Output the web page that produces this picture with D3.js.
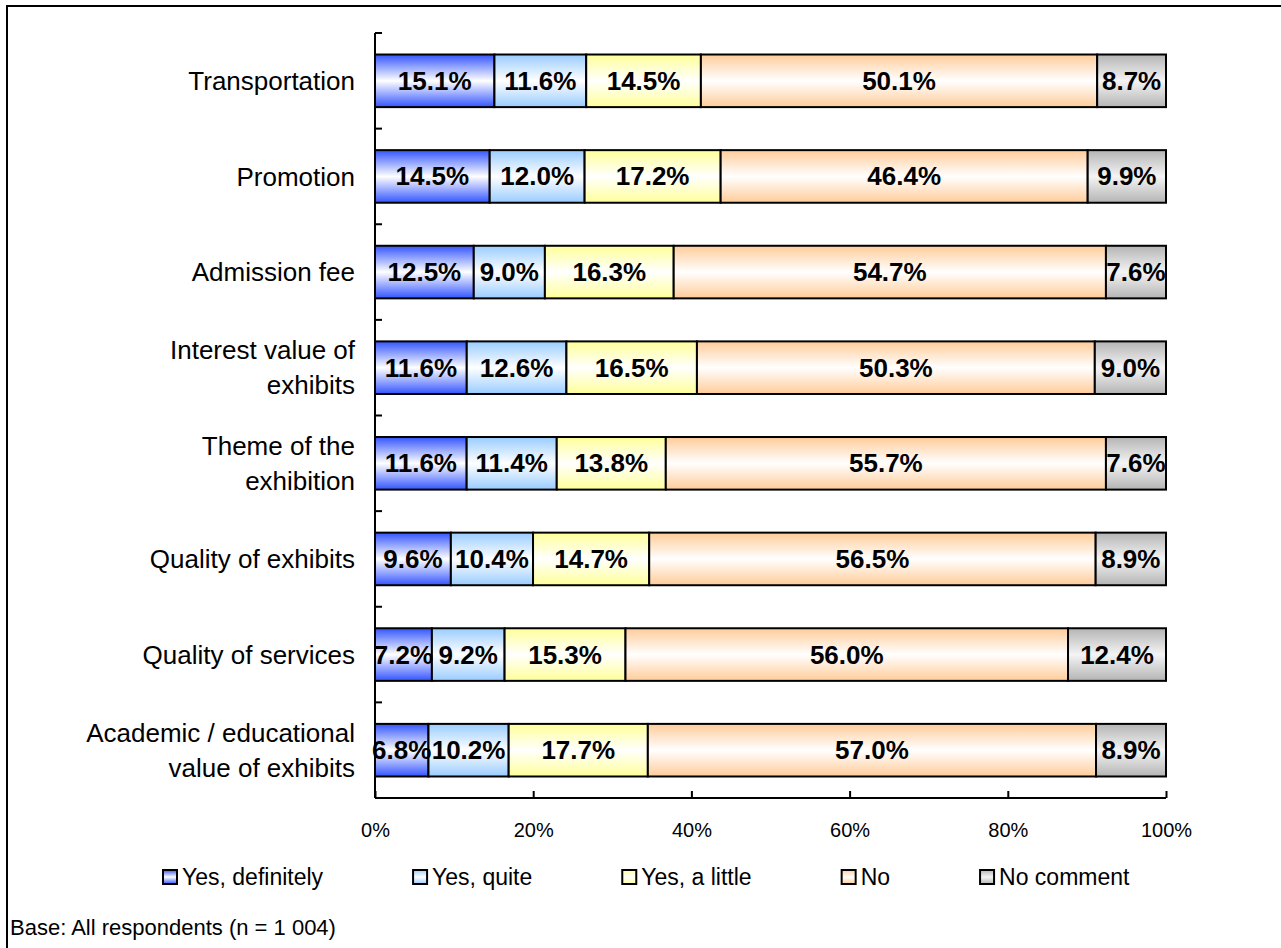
<!DOCTYPE html>
<html>
<head>
<meta charset="utf-8">
<script src="https://cdn.jsdelivr.net/npm/d3@7"></script>
<style>
  body { margin: 0; background: #fff; }
  text { font-family: "Liberation Sans", Arial, sans-serif; }
</style>
</head>
<body>
<div id="chart"></div>
<script>
let w = 1281;
let h = 948;

// categories, top to bottom
const categories = [
  "Transportation",
  "Promotion",
  "Admission fee",
  "Interest value of\nexhibits",
  "Theme of the\nexhibition",
  "Quality of exhibits",
  "Quality of services",
  "Academic / educational\nvalue of exhibits"
];
const seriesNames = ["Yes, definitely", "Yes, quite", "Yes, a little", "No", "No comment"];
const yesDefinitely = [15.1, 14.5, 12.5, 11.6, 11.6, 9.6, 7.2, 6.8];
const yesQuite      = [11.6, 12.0, 9.0, 12.6, 11.4, 10.4, 9.2, 10.2];
const yesLittle     = [14.5, 17.2, 16.3, 16.5, 13.8, 14.7, 15.3, 17.7];
const no            = [50.1, 46.4, 54.7, 50.3, 55.7, 56.5, 56.0, 57.0];
const noComment     = [8.7, 9.9, 7.6, 9.0, 7.6, 8.9, 12.4, 8.9];
const xTicks = [0, 0.2, 0.4, 0.6, 0.8, 1];

const seriesValues = [yesDefinitely, yesQuite, yesLittle, no, noComment];
const edgeColors = ["#3355ff", "#99ccff", "#ffff99", "#ffcc99", "#b4b4b4"];
const midColors  = ["#ffffff", "#ffffff", "#ffffff", "#ffffff", "#f4f4f4"];

// build rows for d3.stack
let rows = categories.map((c, i) => {
  let r = { cat: c };
  seriesNames.forEach((s, j) => r[s] = seriesValues[j][i]);
  return r;
});

let stacked = d3.stack()
  .keys(seriesNames)
  .offset(d3.stackOffsetExpand)(rows);

let margin = { left: 375, right: 115, top: 33, bottom: 150 };

let xScale = d3.scaleLinear()
  .domain([0, 1])
  .range([margin.left, w - margin.right]);

let yScale = d3.scaleBand()
  .domain(categories)
  .range([margin.top, h - margin.bottom])
  .paddingInner(0.45)
  .paddingOuter(0.225);

let svg = d3.select("#chart")
  .append("svg")
  .attr("width", w)
  .attr("height", h);

// gradients
let defs = svg.append("defs");
seriesNames.forEach((s, j) => {
  let g = defs.append("linearGradient")
    .attr("id", "grad" + j)
    .attr("x1", 0).attr("y1", 0).attr("x2", 0).attr("y2", 1);
  g.append("stop").attr("offset", "0%").attr("stop-color", edgeColors[j]);
  g.append("stop").attr("offset", "50%").attr("stop-color", midColors[j]);
  g.append("stop").attr("offset", "100%").attr("stop-color", edgeColors[j]);
});

// outer frame
svg.append("rect")
  .attr("x", 7).attr("y", 6)
  .attr("width", w + 10).attr("height", h + 20)
  .attr("fill", "none")
  .attr("stroke", "black")
  .attr("stroke-width", 2);

// bars
let layers = svg.selectAll("g.layer")
  .data(stacked)
  .enter()
  .append("g")
  .attr("class", "layer")
  .attr("fill", (d, j) => "url(#grad" + j + ")");

layers.selectAll("rect")
  .data(d => d)
  .enter()
  .append("rect")
  .attr("x", d => xScale(d[0]))
  .attr("y", d => yScale(d.data.cat))
  .attr("width", d => xScale(d[1]) - xScale(d[0]))
  .attr("height", yScale.bandwidth())
  .attr("stroke", "black")
  .attr("stroke-width", 2);

// value labels
stacked.forEach((layer, j) => {
  svg.append("g").selectAll("text")
    .data(layer)
    .enter()
    .append("text")
    .attr("x", d => (xScale(d[0]) + xScale(d[1])) / 2)
    .attr("y", d => yScale(d.data.cat) + yScale.bandwidth() / 2)
    .attr("text-anchor", "middle")
    .attr("dominant-baseline", "central")
    .style("font-size", "26px")
    .style("font-weight", "bold")
    .text((d, i) => seriesValues[j][i].toFixed(1) + "%");
});

// y axis: line plus ticks at band boundaries
let x0 = xScale(0);
let yTop = yScale.range()[0], yBot = yScale.range()[1];
svg.append("line")
  .attr("x1", x0).attr("x2", x0)
  .attr("y1", yTop).attr("y2", yBot)
  .attr("stroke", "black").attr("stroke-width", 2);

let step = yScale.step();
let bounds = d3.range(categories.length + 1).map(i => yTop + i * step);
svg.append("g").selectAll("line")
  .data(bounds)
  .enter()
  .append("line")
  .attr("x1", x0).attr("x2", x0 + 7)
  .attr("y1", d => d).attr("y2", d => d)
  .attr("stroke", "black").attr("stroke-width", 2);

// category labels
let catG = svg.append("g");
categories.forEach(c => {
  let lines = c.split("\n");
  let cy = yScale(c) + yScale.bandwidth() / 2;
  let t = catG.append("text")
    .attr("text-anchor", "end")
    .style("font-size", "26px")
    .attr("fill", "#000");
  lines.forEach((l, k) => {
    t.append("tspan")
      .attr("x", x0 - 20)
      .attr("y", cy + (k - (lines.length - 1) / 2) * 35)
      .attr("dy", "0.35em")
      .text(l);
  });
});

// x axis
let xAxis = d3.axisBottom(xScale)
  .tickValues(xTicks)
  .tickFormat(d3.format(".0%"))
  .tickSize(-7)
  .tickPadding(25);

let xg = svg.append("g")
  .attr("transform", "translate(0," + yBot + ")")
  .call(xAxis);
xg.select(".domain").attr("stroke", "black").attr("stroke-width", 2)
  .attr("d", "M" + xScale(0) + ",0H" + xScale(1));
xg.selectAll(".tick line").attr("stroke", "black").attr("stroke-width", 2);
xg.selectAll(".tick text")
  .style("font-size", "20px")
  .style("font-family", "Liberation Sans, Arial, sans-serif")
  .attr("fill", "#000");

// legend
let legend = svg.append("g");
let lx = 163;
seriesNames.forEach((s, j) => {
  let item = legend.append("g").attr("transform", "translate(" + lx + ",877)");
  item.append("rect")
    .attr("x", 0).attr("y", -7)
    .attr("width", 14).attr("height", 14)
    .attr("fill", "url(#grad" + j + ")")
    .attr("stroke", "black").attr("stroke-width", 2);
  let t = item.append("text")
    .attr("x", 19).attr("y", 0)
    .attr("dominant-baseline", "central")
    .style("font-size", "23px")
    .attr("fill", "#000")
    .text(s);
  lx += 19 + t.node().getComputedTextLength() + 90;
});

// base note
svg.append("text")
  .attr("x", 10).attr("y", 927)
  .attr("dominant-baseline", "central")
  .style("font-size", "22px")
  .attr("fill", "#000")
  .text("Base: All respondents (n = 1 004)");
</script>
</body>
</html>
